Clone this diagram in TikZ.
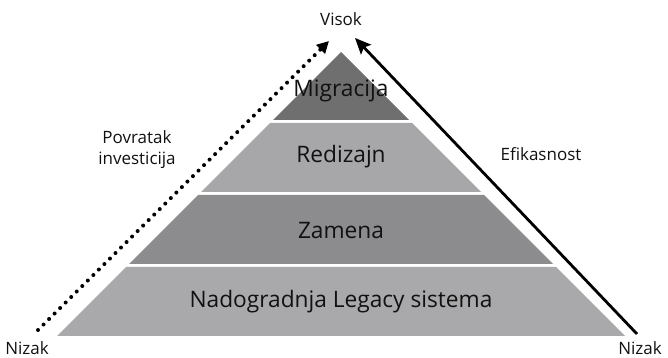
\documentclass[tikz,border=0pt]{standalone}
\usepackage{fontspec}
\setmainfont{Open Sans}
\usetikzlibrary{arrows.meta}
\definecolor{gA}{HTML}{6F6F70}
\definecolor{gB}{HTML}{A7A7A9}
\definecolor{gC}{HTML}{8C8C8E}
\definecolor{gD}{HTML}{A9A9AB}
\definecolor{txt}{HTML}{111111}
\begin{document}
\begin{tikzpicture}[x=1pt,y=1pt,
  layerlabel/.style={font=\fontsize{22.7}{27}\selectfont, text=txt, inner sep=0pt},
  sidelabel/.style={font=\fontsize{17}{21}\selectfont, text=txt, inner sep=0pt, align=center},
  dotarrow/.style={line width=4pt, dash pattern=on 0pt off 7.8pt, line cap=round, -{Triangle[length=12pt,width=12pt]}},
  solidarrow/.style={line width=2.8pt, -{Stealth[length=16pt,width=14pt,inset=3pt]}}]
\useasboundingbox (0,0) rectangle (668,358);
% layers (image y -> tikz y = 358 - y)
\fill[gA] (341,306) -- (409,238) -- (273,238) -- cycle;
\fill[gB] (270,235) -- (412,235) -- (481,166) -- (201,166) -- cycle;
\fill[gC] (198,163) -- (484,163) -- (553,94) -- (129,94) -- cycle;
\fill[gD] (126,91) -- (556,91) -- (625,22) -- (57,22) -- cycle;
\node[layerlabel] (mig) at (341,267) {Migracija};
\node[layerlabel] (red) at (341,201) {Redizajn};
\node[layerlabel] (zam) at (341,127) {Zamena};
\node[layerlabel] (nad) at (341,56) {Nadogradnja Legacy sistema};
% labels
\node[sidelabel] (vis) at (341,339) {Visok};
\node[sidelabel] (nzl) at (27,10) {Nizak};
\node[sidelabel] (nzr) at (640,10) {Nizak};
\node[sidelabel] (pov) at (137,208) {Povratak\\investicija};
\node[sidelabel] (efi) at (541,204) {Efikasnost};
% arrows
\coordinate (ls) at (38,28);
\coordinate (le) at (329,317);
\coordinate (rs) at (637,24);
\coordinate (re) at (355,320);
\draw[dotarrow] (ls) -- (le);
\draw[solidarrow] (rs) -- (re);
\end{tikzpicture}
\end{document}
